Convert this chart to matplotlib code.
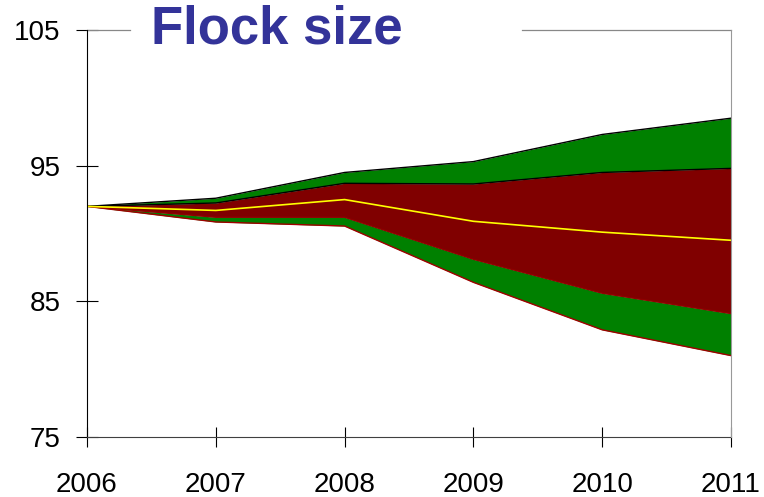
import matplotlib
matplotlib.use("Agg")
import matplotlib.pyplot as plt

# flock size projection bands
years = [2006, 2007, 2008, 2009, 2010, 2011]
outer_hi = [92.0, 92.6, 94.5, 95.3, 97.3, 98.5]
inner_hi = [92.0, 92.25, 93.7, 93.65, 94.5, 94.8]
median = [92.0, 91.7, 92.5, 90.9, 90.1, 89.5]
inner_lo = [92.0, 91.2, 91.2, 88.1, 85.6, 84.1]
outer_lo = [92.0, 90.85, 90.55, 86.4, 82.9, 81.0]
yticks = [75, 85, 95, 105]

plt.rcParams['font.family'] = ['Liberation Sans', 'DejaVu Sans']

fig = plt.figure(figsize=(7.64, 4.97), dpi=100)
ax = fig.add_axes([87/764, 60/497, 644/764, 407/497])

green = '#008000'
red = '#800000'

ax.fill_between(years, inner_hi, outer_hi, color=green, lw=0)
ax.fill_between(years, inner_lo, inner_hi, color=red, lw=0)
ax.fill_between(years, outer_lo, inner_lo, color=green, lw=0)
ax.plot(years, outer_hi, color='black', lw=1)
ax.plot(years, inner_hi, color='black', lw=1)
ax.plot(years, inner_lo, color='#900000', lw=1)
ax.plot(years, outer_lo, color='#a00000', lw=1)
ax.plot(years, median, color='#ffff00', lw=1.2)

ax.set_xlim(2006, 2011)
ax.set_ylim(75, 105)
ax.set_xticks(years)
ax.set_yticks(yticks)
ax.tick_params(axis='x', direction='inout', length=14, width=0.8, pad=18, labelsize=20)
ax.tick_params(axis='y', direction='inout', length=16, width=0.8, pad=11, labelsize=20)

ax.spines['top'].set_visible(False)
ax.spines['left'].set_color('black')
ax.spines['bottom'].set_color('#404040')
ax.spines['right'].set_color('#999999')
ax.spines['right'].set_zorder(5)

# top frame line with a gap for the title
ax.plot([0, 0.067], [1, 1], transform=ax.transAxes, color='#888888', lw=0.9, clip_on=False)
ax.plot([0.675, 1], [1, 1], transform=ax.transAxes, color='#888888', lw=0.9, clip_on=False)

fig.text(277/764, 1 - 30/497, 'Flock size', color='#333399', fontsize=38,
         fontweight='bold', ha='center', va='center')

fig.savefig('out.png', dpi=100)
